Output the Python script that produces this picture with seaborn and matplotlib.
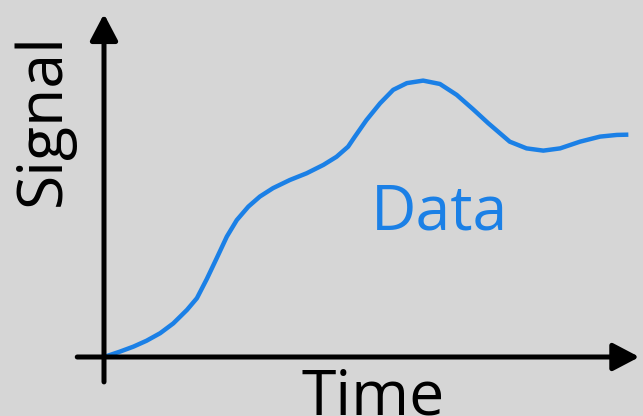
import matplotlib.pyplot as plt
import seaborn as sns
import pandas as pd

# Curve (time vs signal, arbitrary units)
time = [0.00, 0.30, 0.56, 0.81, 1.07, 1.32, 1.58, 1.77, 1.96, 2.15, 2.34,
        2.53, 2.75, 2.97, 3.22, 3.54, 3.86, 4.18, 4.43, 4.65, 4.78, 5.00,
        5.26, 5.51, 5.77, 6.08, 6.40, 6.72, 7.03, 7.32, 7.73, 8.05, 8.37,
        8.69, 9.07, 9.45, 9.77, 9.99]
signal = [0.00, 0.19, 0.37, 0.58, 0.85, 1.20, 1.68, 2.10, 2.79, 3.54, 4.30,
          4.89, 5.37, 5.73, 6.03, 6.32, 6.56, 6.86, 7.15, 7.51, 7.87, 8.46,
          9.06, 9.54, 9.78, 9.87, 9.75, 9.36, 8.85, 8.35, 7.69, 7.45, 7.37,
          7.45, 7.69, 7.87, 7.93, 7.94]
series_label = "Data"
x_label = "Time"
y_label = "Signal"

bg = "#d6d6d6"
blue = "#1b80e6"

sns.set_theme(style="white")
plt.rcParams["font.family"] = ["Open Sans", "DejaVu Sans"]

df = pd.DataFrame({"Time": time, "Signal": signal})

fig = plt.figure(figsize=(6.43, 4.16), dpi=100, facecolor=bg)
ax = fig.add_axes([104 / 643, 59 / 416, 538 / 643, 345 / 416])
ax.set_facecolor(bg)

sns.lineplot(data=df, x="Time", y="Signal", color=blue, linewidth=3.2, ax=ax,
             solid_capstyle="butt", solid_joinstyle="round")

ax.set_xlim(0, 10.25)
ax.set_ylim(0, 12.32)
ax.set_xticks([])
ax.set_yticks([])
for s in ax.spines.values():
    s.set_visible(False)

# axis arrows
arrow = dict(arrowstyle="-|>,head_length=0.8,head_width=0.42", mutation_scale=20,
             lw=3.6, color="black", shrinkA=0, shrinkB=0)
ax.annotate("", xy=(10.2, 0), xytext=(-0.51, 0), arrowprops=arrow,
            annotation_clip=False)
ax.annotate("", xy=(0, 12.25), xytext=(0, -0.89), arrowprops=arrow,
            annotation_clip=False)

ax.set_xlabel(x_label, fontsize=45, color="black")
ax.xaxis.set_label_coords(0.5, -0.03)
ax.set_ylabel(y_label, fontsize=45, color="black")
ax.yaxis.set_label_coords(-0.054, 0.687)

ax.text(6.4, 4.54, series_label, color=blue, fontsize=45, ha="center",
        va="baseline")

fig.savefig("out.png", dpi=100, facecolor=bg)
